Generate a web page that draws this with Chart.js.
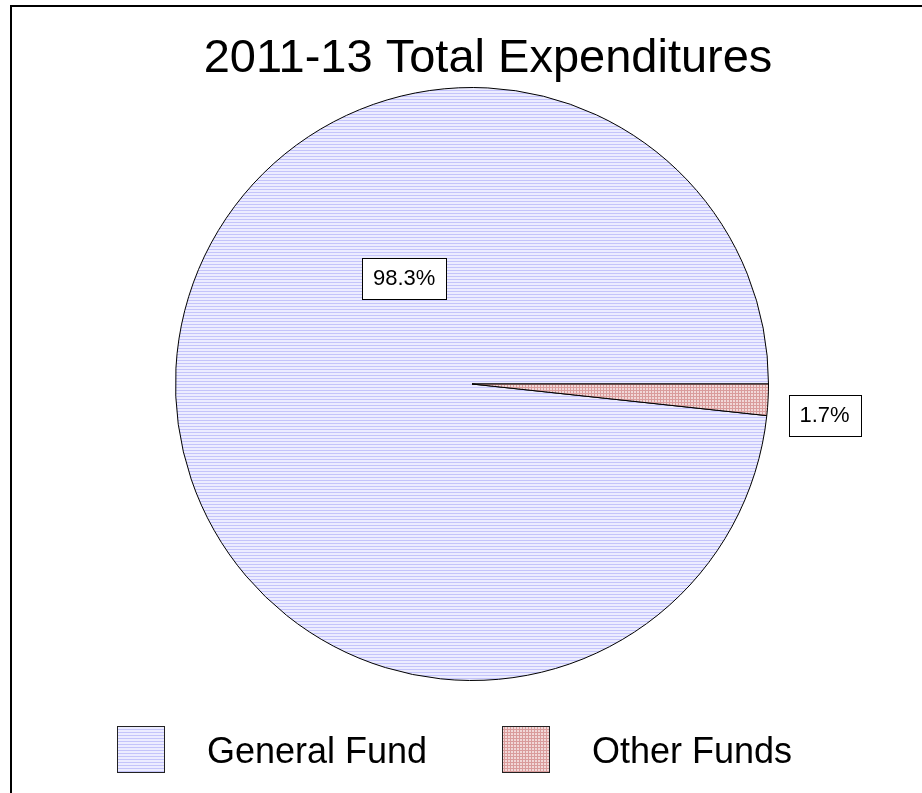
<!DOCTYPE html>
<html>
<head>
<meta charset="utf-8">
<script src="https://cdn.jsdelivr.net/npm/chart.js@4"></script>
<style>
  body { margin: 0; background: #fff; }
  canvas { display: block; }
</style>
</head>
<body>
<canvas id="myChart" width="922" height="793"></canvas>
<script>
const chartTitle = "2011-13 Total Expenditures";
const categories = ["General Fund", "Other Funds"];
const shares = [98.3, 1.7];
const shareLabels = ["98.3%", "1.7%"];

const FONT = "'Liberation Sans', Arial, sans-serif";

function makePattern(kind) {
  const c = document.createElement("canvas");
  c.width = 3;
  c.height = 3;
  const p = c.getContext("2d");
  if (kind === "stripes") {
    p.fillStyle = "#ececff";
    p.fillRect(0, 0, 3, 3);
    p.fillStyle = "#c4c4fa";
    p.fillRect(0, 0, 3, 1);
  } else {
    p.fillStyle = "#f1d8d8";
    p.fillRect(0, 0, 3, 3);
    p.fillStyle = "#d99c9c";
    p.fillRect(0, 0, 3, 1);
    p.fillRect(0, 0, 1, 3);
  }
  return p.createPattern(c, "repeat");
}

const fills = [makePattern("stripes"), makePattern("grid")];

// label spots relative to pie centre, in units of the radius
const labelSpots = [[-0.229, -0.357], [1.189, 0.106]];

const decorations = {
  id: "decorations",
  afterDraw(chart) {
    const ctx = chart.ctx;
    const arcs = chart.getDatasetMeta(0).data;
    ctx.save();

    // frame
    ctx.strokeStyle = "#000";
    ctx.lineWidth = 2;
    ctx.beginPath();
    ctx.moveTo(11, chart.height);
    ctx.lineTo(11, 6);
    ctx.lineTo(chart.width, 6);
    ctx.stroke();

    // title
    ctx.fillStyle = "#000";
    ctx.font = "47px " + FONT;
    ctx.textAlign = "center";
    ctx.textBaseline = "alphabetic";
    ctx.fillText(chartTitle, 488, 72);

    // value labels
    ctx.font = "22px " + FONT;
    ctx.textBaseline = "middle";
    arcs.forEach((arc, i) => {
      const r = arc.outerRadius;
      const cx = arc.x + labelSpots[i][0] * r;
      const cy = arc.y + labelSpots[i][1] * r;
      const w = Math.round(ctx.measureText(shareLabels[i]).width + 22);
      const h = 41;
      const x0 = Math.round(cx - w / 2) + 0.5;
      const y0 = Math.round(cy - h / 2) + 0.5;
      ctx.fillStyle = "#fff";
      ctx.fillRect(x0, y0, w, h);
      ctx.lineWidth = 1;
      ctx.strokeStyle = "#000";
      ctx.strokeRect(x0, y0, w, h);
      ctx.fillStyle = "#000";
      ctx.fillText(shareLabels[i], cx, cy + 1);
    });

    // legend
    const boxX = [117, 502];
    ctx.font = "36px " + FONT;
    ctx.textAlign = "left";
    ctx.textBaseline = "alphabetic";
    categories.forEach((name, i) => {
      ctx.fillStyle = fills[i];
      ctx.fillRect(boxX[i] + 0.5, 726.5, 47, 46);
      ctx.strokeStyle = "#222";
      ctx.lineWidth = 1;
      ctx.strokeRect(boxX[i] + 0.5, 726.5, 47, 46);
      ctx.fillStyle = "#000";
      ctx.fillText(name, boxX[i] + 90, 763);
    });

    ctx.restore();
  }
};

const chartOptions = {
  type: "pie",
  data: {
    labels: categories,
    datasets: [
      {
        data: shares,
        backgroundColor: fills,
        borderColor: "#000",
        borderWidth: 1,
      },
    ],
  },
  options: {
    responsive: false,
    animation: false,
    events: [],
    rotation: 90 + (shares[1] / 100) * 360,
    layout: { padding: { top: 87, bottom: 112, left: 22, right: 0 } },
    plugins: {
      legend: { display: false },
      title: { display: false },
      tooltip: { enabled: false },
    },
  },
  plugins: [decorations],
};

new Chart(document.getElementById("myChart").getContext("2d"), chartOptions);
</script>
</body>
</html>
